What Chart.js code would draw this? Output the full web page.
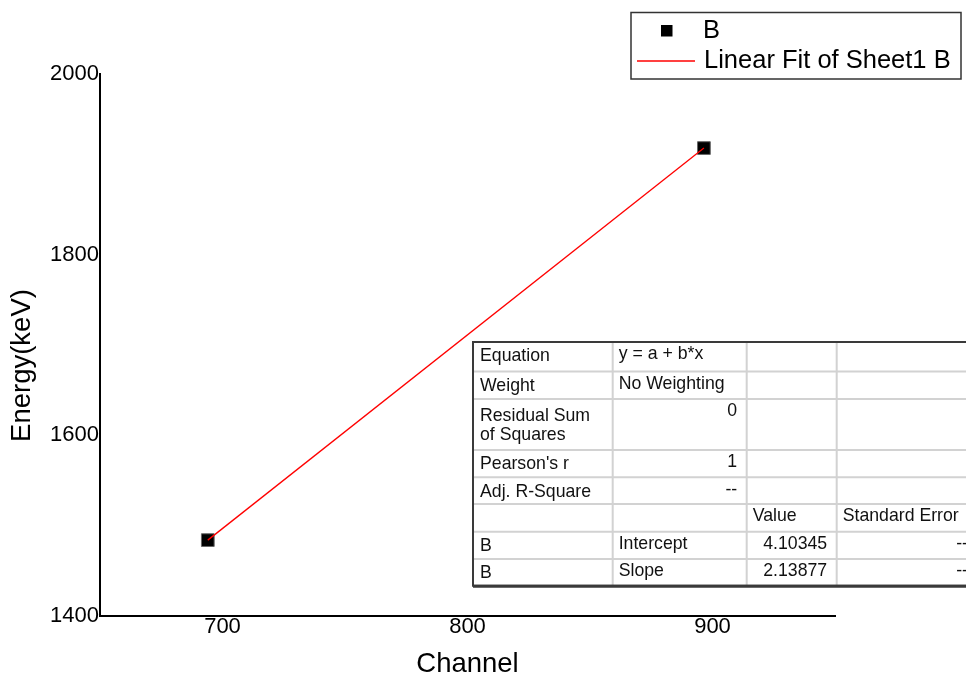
<!DOCTYPE html>
<html><head><meta charset="utf-8">
<script src="https://cdn.jsdelivr.net/npm/chart.js@4.4.0/dist/chart.umd.min.js"></script>
<style>html,body{margin:0;padding:0;background:#fff;overflow:hidden}#wrap{position:relative;width:966px;height:678px}</style>
</head><body><div id="wrap"><canvas id="c" width="966" height="678"></canvas></div>
<script>
// ---- data ----
const channels = [694, 896.5];
const energies = [1484, 1918];
const xTicks = [700, 800, 900];
const yTicks = [1400, 1600, 1800, 2000];
const seriesLabel = 'B';
const fitLabel = 'Linear Fit of Sheet1 B';
const xTitle = 'Channel';
const yTitle = 'Energy(keV)';
const tableCol1 = ['Equation', 'Weight', 'Residual Sum\nof Squares', "Pearson's r", 'Adj. R-Square', '', 'B', 'B'];
const tableCol2 = ['y = a + b*x', 'No Weighting', '0', '1', '--', '', 'Intercept', 'Slope'];
const tableCol3 = ['', '', '', '', '', 'Value', '4.10345', '2.13877'];
const tableCol4 = ['', '', '', '', '', 'Standard Error', '--', '--'];

// ---- layout ----
const FONT = '"Liberation Sans", Arial, sans-serif';
const rowEdges = [342, 371.5, 399, 450, 477.3, 504, 531.7, 559, 585.7];
const colEdges = [473, 612.7, 746.7, 836.7, 978];

const tablePlugin = {
  id: 'fitTable',
  afterDraw(chart) {
    const ctx = chart.ctx;
    const cols = [tableCol1, tableCol2, tableCol3, tableCol4];
    ctx.save();
    ctx.fillStyle = '#fff';
    ctx.fillRect(colEdges[0], rowEdges[0], colEdges[4] - colEdges[0], rowEdges[8] - rowEdges[0]);
    ctx.strokeStyle = '#d2d2d2';
    ctx.lineWidth = 2;
    ctx.beginPath();
    for (let i = 1; i < rowEdges.length - 1; i++) { ctx.moveTo(colEdges[0], rowEdges[i]); ctx.lineTo(colEdges[4], rowEdges[i]); }
    for (let j = 1; j < colEdges.length - 1; j++) { ctx.moveTo(colEdges[j], rowEdges[0]); ctx.lineTo(colEdges[j], rowEdges[8]); }
    ctx.stroke();
    ctx.strokeStyle = '#3a3a3a';
    ctx.lineWidth = 2;
    ctx.beginPath();
    ctx.moveTo(colEdges[4], rowEdges[0]); ctx.lineTo(colEdges[0], rowEdges[0]);
    ctx.lineTo(colEdges[0], rowEdges[8]); ctx.lineTo(colEdges[4], rowEdges[8]);
    ctx.stroke();
    ctx.lineWidth = 3;
    ctx.beginPath(); ctx.moveTo(colEdges[0], rowEdges[8] + 0.5); ctx.lineTo(colEdges[4], rowEdges[8] + 0.5); ctx.stroke();
    ctx.fillStyle = '#111';
    ctx.font = '17.7px ' + FONT;
    ctx.textBaseline = 'middle';
    const isNum = s => /^(-?[\d.]+|--)$/.test(s);
    cols.forEach((col, j) => {
      col.forEach((txt, i) => {
        if (!txt) return;
        const top = rowEdges[i];
        const lines = txt.split('\n');
        if (j === 0) {
          ctx.textAlign = 'left';
          if (lines.length > 1) {
            lines.forEach((ln, k) => ctx.fillText(ln, colEdges[0] + 7, top + 17.5 + k * 18.5));
          } else ctx.fillText(txt, colEdges[0] + 7, top + 14.5);
        } else {
          if (isNum(txt)) {
            ctx.textAlign = 'right';
            ctx.fillText(txt, colEdges[j + 1] - (j === 3 ? 10 : 9.5), top + 12.5);
          } else {
            ctx.textAlign = 'left';
            ctx.fillText(txt, colEdges[j] + 6, top + 12.5);
          }
        }
      });
    });
    ctx.restore();
  }
};

const legendPlugin = {
  id: 'boxLegend',
  afterDraw(chart) {
    const ctx = chart.ctx;
    const ds = chart.data.datasets;
    const pts = ds.find(d => d.label === seriesLabel);
    const fit = ds.find(d => d.label === fitLabel);
    ctx.save();
    ctx.strokeStyle = '#333';
    ctx.lineWidth = 1.5;
    ctx.strokeRect(631, 12.5, 330, 66.5);
    ctx.fillStyle = pts.backgroundColor;
    ctx.fillRect(661, 25, 11.5, 11.5);
    ctx.strokeStyle = fit.borderColor;
    ctx.lineWidth = 1.5;
    ctx.beginPath(); ctx.moveTo(637, 61); ctx.lineTo(695, 61); ctx.stroke();
    ctx.fillStyle = '#000';
    ctx.font = '25.5px ' + FONT;
    ctx.textAlign = 'left';
    ctx.textBaseline = 'middle';
    ctx.fillText(pts.label, 703, 31);
    ctx.fillText(fit.label, 704, 61);
    ctx.restore();
  }
};

const yTitlePlugin = {
  id: 'yTitle',
  afterDraw(chart) {
    const ctx = chart.ctx;
    ctx.save();
    ctx.translate(22.5, 365.5);
    ctx.rotate(-Math.PI / 2);
    ctx.fillStyle = '#000';
    ctx.font = '27.5px ' + FONT;
    ctx.textAlign = 'center';
    ctx.textBaseline = 'middle';
    ctx.fillText(yTitle, 0, 0);
    ctx.restore();
  }
};

const pointData = channels.map((x, i) => ({ x, y: energies[i] }));

new Chart(document.getElementById('c'), {
  type: 'scatter',
  data: {
    datasets: [
      {
        label: fitLabel,
        data: pointData,
        showLine: true,
        borderColor: '#ff0000',
        borderWidth: 1.3,
        pointRadius: 0,
        fill: false,
        order: 0
      },
      {
        label: seriesLabel,
        data: pointData,
        backgroundColor: '#000',
        borderColor: '#666',
        borderWidth: 1,
        pointStyle: 'rect',
        pointRadius: 9,
        order: 1
      }
    ]
  },
  options: {
    responsive: false,
    animation: false,
    layout: { padding: { top: 74, right: 131, left: 0, bottom: 0 } },
    plugins: { legend: { display: false }, tooltip: { enabled: false } },
    scales: {
      x: {
        type: 'linear',
        min: 650, max: 950,
        afterFit(s) { s.height = 62; },
        afterBuildTicks(s) { s.ticks = xTicks.map(v => ({ value: v })); },
        grid: { display: false, drawTicks: false },
        border: { display: true, color: '#000', width: 2 },
        ticks: { color: '#000', font: { family: FONT, size: 22 }, padding: -2, maxRotation: 0, autoSkip: false, callback: v => String(v) },
        title: { display: true, text: xTitle, color: '#000', font: { family: FONT, size: 27.5 }, padding: { top: 0, bottom: -3 } }
      },
      y: {
        type: 'linear',
        min: 1400, max: 2000,
        afterFit(s) { s.width = 100; },
        afterBuildTicks(s) { s.ticks = yTicks.map(v => ({ value: v })); },
        grid: { display: false, drawTicks: false },
        border: { display: true, color: '#000', width: 2 },
        ticks: { color: '#000', font: { family: FONT, size: 22 }, padding: 1, autoSkip: false, callback: v => String(v) },
        title: { display: false }
      }
    }
  },
  plugins: [tablePlugin, legendPlugin, yTitlePlugin]
});
</script>
</body></html>
